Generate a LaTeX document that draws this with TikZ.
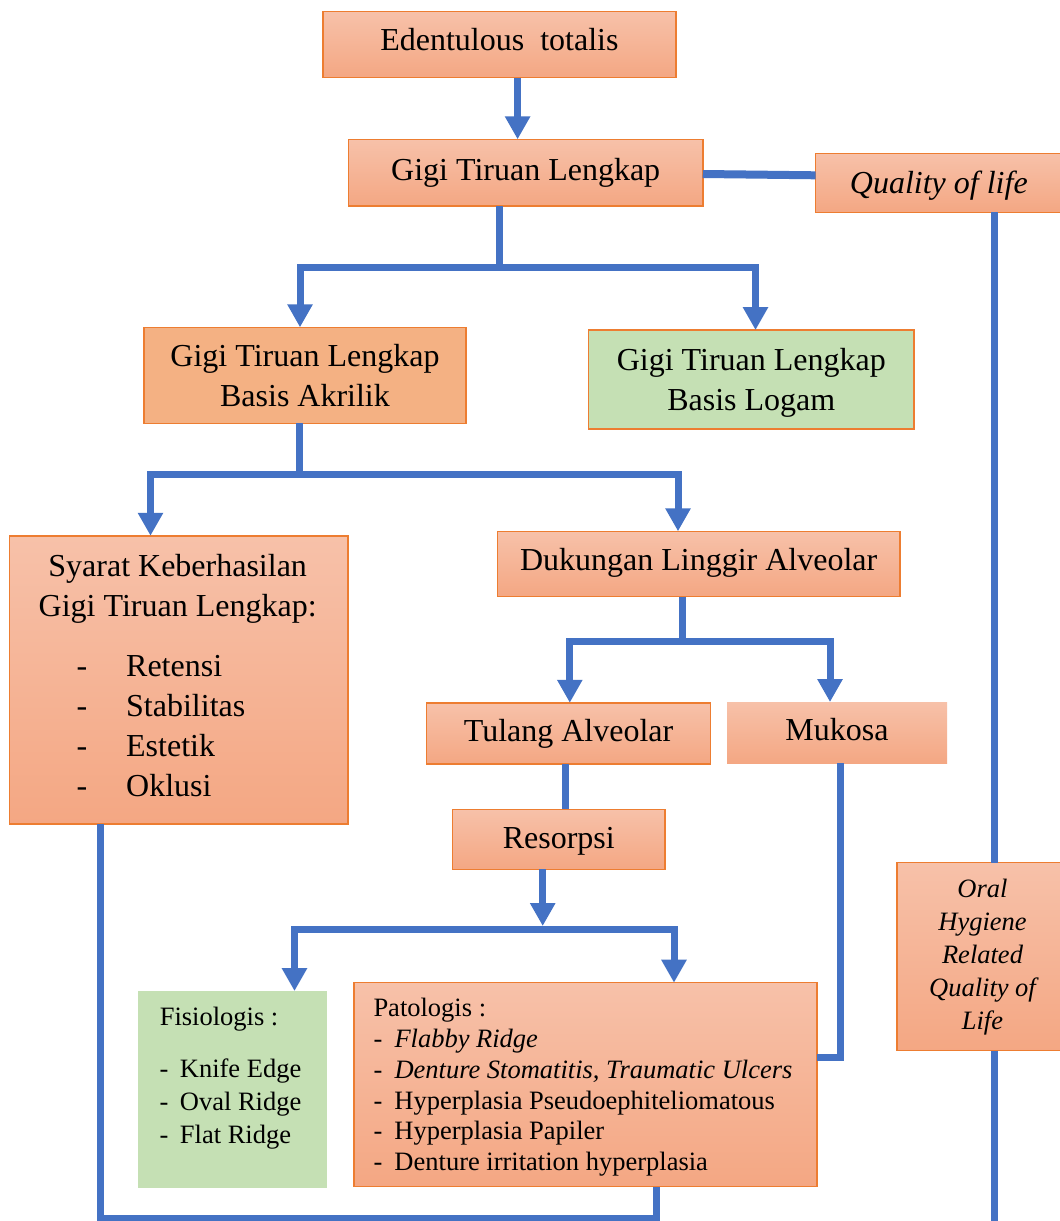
\documentclass[tikz,border=0pt]{standalone}
\usepackage{fontspec}
\setmainfont{Liberation Serif}
\usetikzlibrary{arrows.meta}
\definecolor{pkTop}{RGB}{247,193,169}
\definecolor{pkBot}{RGB}{244,167,131}
\definecolor{acr}{RGB}{244,177,131}
\definecolor{grn}{RGB}{197,224,180}
\definecolor{brd}{RGB}{237,125,49}
\definecolor{blu}{RGB}{68,114,196}
\newcommand{\bigf}{\fontsize{32}{40}\selectfont}
\newcommand{\smf}{\fontsize{26.5}{30.8}\selectfont}
\newcommand{\fisf}{\fontsize{26.5}{33}\selectfont}
\newcommand{\orf}{\fontsize{26.5}{33}\selectfont}
\begin{document}
\begin{tikzpicture}[x=1pt,y=-1pt,
  boxbase/.style={inner sep=0pt, outer sep=0pt, anchor=center},
  peach/.style={boxbase, top color=pkTop, bottom color=pkBot},
  obord/.style={draw=brd, line width=1.5pt},
  one/.style={font=\bigf, text height=24pt, text depth=8pt},
  ln/.style={draw=blu, line width=7pt, line join=miter},
  arr/.style={ln, -{Triangle[length=23pt,width=24pt]}},
  txt/.style={inner sep=0pt, anchor=base west},
]
\useasboundingbox (0,0) rectangle (1060,1221);
\fill[white] (0,0) rectangle (1060,1221);

% boxes
\node[peach, obord, one, text height=22pt, text depth=10pt, minimum width=352.7pt, minimum height=66pt] (e) at (499.4,44.7) {Edentulous\ \ totalis};
\node[peach, obord, one, minimum width=354.1pt, minimum height=66.7pt] (g) at (525.7,172.7) {Gigi Tiruan Lengkap};
\node[peach, obord, one, font=\bigf\itshape, text height=24pt, text depth=3pt, minimum width=246.5pt, minimum height=59pt] (q) at (938.8,182.8) {Quality of life};
\node[boxbase, fill=acr, obord, font=\bigf, text height=31.5pt, text depth=48.5pt, minimum width=322pt, minimum height=96pt] (a) at (305,375.3)
  {\begin{tabular}[t]{@{}c@{}}Gigi Tiruan Lengkap\\Basis Akrilik\end{tabular}};
\node[boxbase, fill=grn, obord, font=\bigf, text height=31.5pt, text depth=48.5pt, minimum width=325.5pt, minimum height=98.7pt] (l) at (751.3,379.4)
  {\begin{tabular}[t]{@{}c@{}}Gigi Tiruan Lengkap\\Basis Logam\end{tabular}};
\node[peach, obord, minimum width=338.5pt, minimum height=288.3pt] (s) at (178.8,679.9) {};
\node[peach, obord, one, text height=24pt, text depth=12pt, minimum width=402.7pt, minimum height=65.4pt] (d) at (698.7,564) {Dukungan Linggir Alveolar};
\node[peach, obord, one, minimum width=284.1pt, minimum height=61.3pt] (t) at (568.6,733.4) {Tulang Alveolar};
\node[peach, one, minimum width=220pt, minimum height=61.3pt] (m) at (837,732.7) {Mukosa};
\node[peach, obord, one, text height=24pt, text depth=6pt, minimum width=212.4pt, minimum height=60pt] (r) at (558.8,839.3) {Resorpsi};
\node[peach, obord, font=\orf\itshape, minimum width=165pt, minimum height=188pt] (o) at (979.5,956.7)
  {\hspace*{6pt}\begin{tabular}[t]{@{}c@{}}Oral\\Hygiene\\Related\\Quality of\\Life\end{tabular}};
\node[boxbase, fill=grn, minimum width=188.2pt, minimum height=196.7pt] (f) at (232.5,1089.4) {};
\node[peach, obord, minimum width=463pt, minimum height=204pt] (p) at (585.5,1084.7) {};

% texts inside the multi-part boxes
\node[inner sep=0pt, anchor=base, font=\bigf] (stitle) at (177.7,576.7)
  {\begin{tabular}[t]{@{}c@{}}Syarat Keberhasilan\\Gigi Tiruan Lengkap:\end{tabular}};
\node[txt, font=\bigf] (slist) at (76.5,676.7)
  {\begin{tabular}[t]{@{}l@{}}\makebox[49.5pt][l]{-}Retensi\\\makebox[49.5pt][l]{-}Stabilitas\\\makebox[49.5pt][l]{-}Estetik\\\makebox[49.5pt][l]{-}Oklusi\end{tabular}};
\node[txt, font=\fisf] (ftitle) at (159.6,1025) {Fisiologis :};
\node[txt, font=\fisf] (flist) at (159.4,1077.3)
  {\begin{tabular}[t]{@{}l@{}}\makebox[20.3pt][l]{-}Knife Edge\\\makebox[20.3pt][l]{-}Oval Ridge\\\makebox[20.3pt][l]{-}Flat Ridge\end{tabular}};
\node[txt, font=\smf] (plist) at (373.3,1016.7)
  {\begin{tabular}[t]{@{}l@{}}Patologis :\\
  \makebox[21pt][l]{-}\textit{Flabby Ridge}\\
  \makebox[21pt][l]{-}\textit{Denture Stomatitis, Traumatic Ulcers}\\
  \makebox[21pt][l]{-}Hyperplasia Pseudoephiteliomatous\\
  \makebox[21pt][l]{-}Hyperplasia Papiler\\
  \makebox[21pt][l]{-}Denture irritation hyperplasia\end{tabular}};

% helper coordinates
\coordinate (xE) at (517.6,0);
\coordinate (yq1) at (0,174);
\coordinate (yq2) at (0,175.3);
\coordinate (xQ) at (994,0);
\coordinate (qEnd) at (994,1226);
\coordinate (jG) at (499.4,267.5);
\coordinate (xG1) at (300,0);
\coordinate (xG2) at (755.5,0);
\coordinate (jA) at (299.4,474.5);
\coordinate (xA1) at (150.5,0);
\coordinate (xA2) at (678,0);
\coordinate (jD) at (682,641.5);
\coordinate (xD1) at (569.8,0);
\coordinate (xD2) at (830,0);
\coordinate (xT) at (565,0);
\coordinate (jR) at (542.7,929.7);
\coordinate (jRt) at (542.7,926);
\coordinate (xR1) at (294.5,0);
\coordinate (xR2) at (674,0);
\coordinate (jM) at (840,1057.3);
\coordinate (xS) at (100,0);
\coordinate (jS) at (656,1218);

% connectors
\draw[arr] (e.south -| xE) -- (g.north -| xE);
\draw[ln, line width=8pt] (g.east |- yq1) -- (q.west |- yq2);
\draw[ln] (q.south -| xQ) -- (o.north -| xQ);
\draw[ln] (o.south -| xQ) -- (qEnd);

\draw[ln] (g.south -| jG) -- (jG);
\draw[arr] (jG) -| (a.north -| xG1);
\draw[arr] (jG) -| (l.north -| xG2);

\draw[ln] (a.south -| jA) -- (jA);
\draw[arr] (jA) -| (s.north -| xA1);
\draw[arr] (jA) -| (d.north -| xA2);

\draw[ln] (d.south -| jD) -- (jD);
\draw[arr] (jD) -| (t.north -| xD1);
\draw[arr] (jD) -| (m.north -| xD2);

\draw[ln] (t.south -| xT) -- (r.north -| xT);

\draw[arr] (r.south -| jR) -- (jRt);
\draw[arr] (jR) -| (f.north -| xR1);
\draw[arr] (jR) -| (p.north -| xR2);

\draw[ln] (m.south -| jM) |- (p.east |- jM);
\draw[ln] (s.south -| xS) |- (jS) -- (p.south -| jS);
\end{tikzpicture}
\end{document}
